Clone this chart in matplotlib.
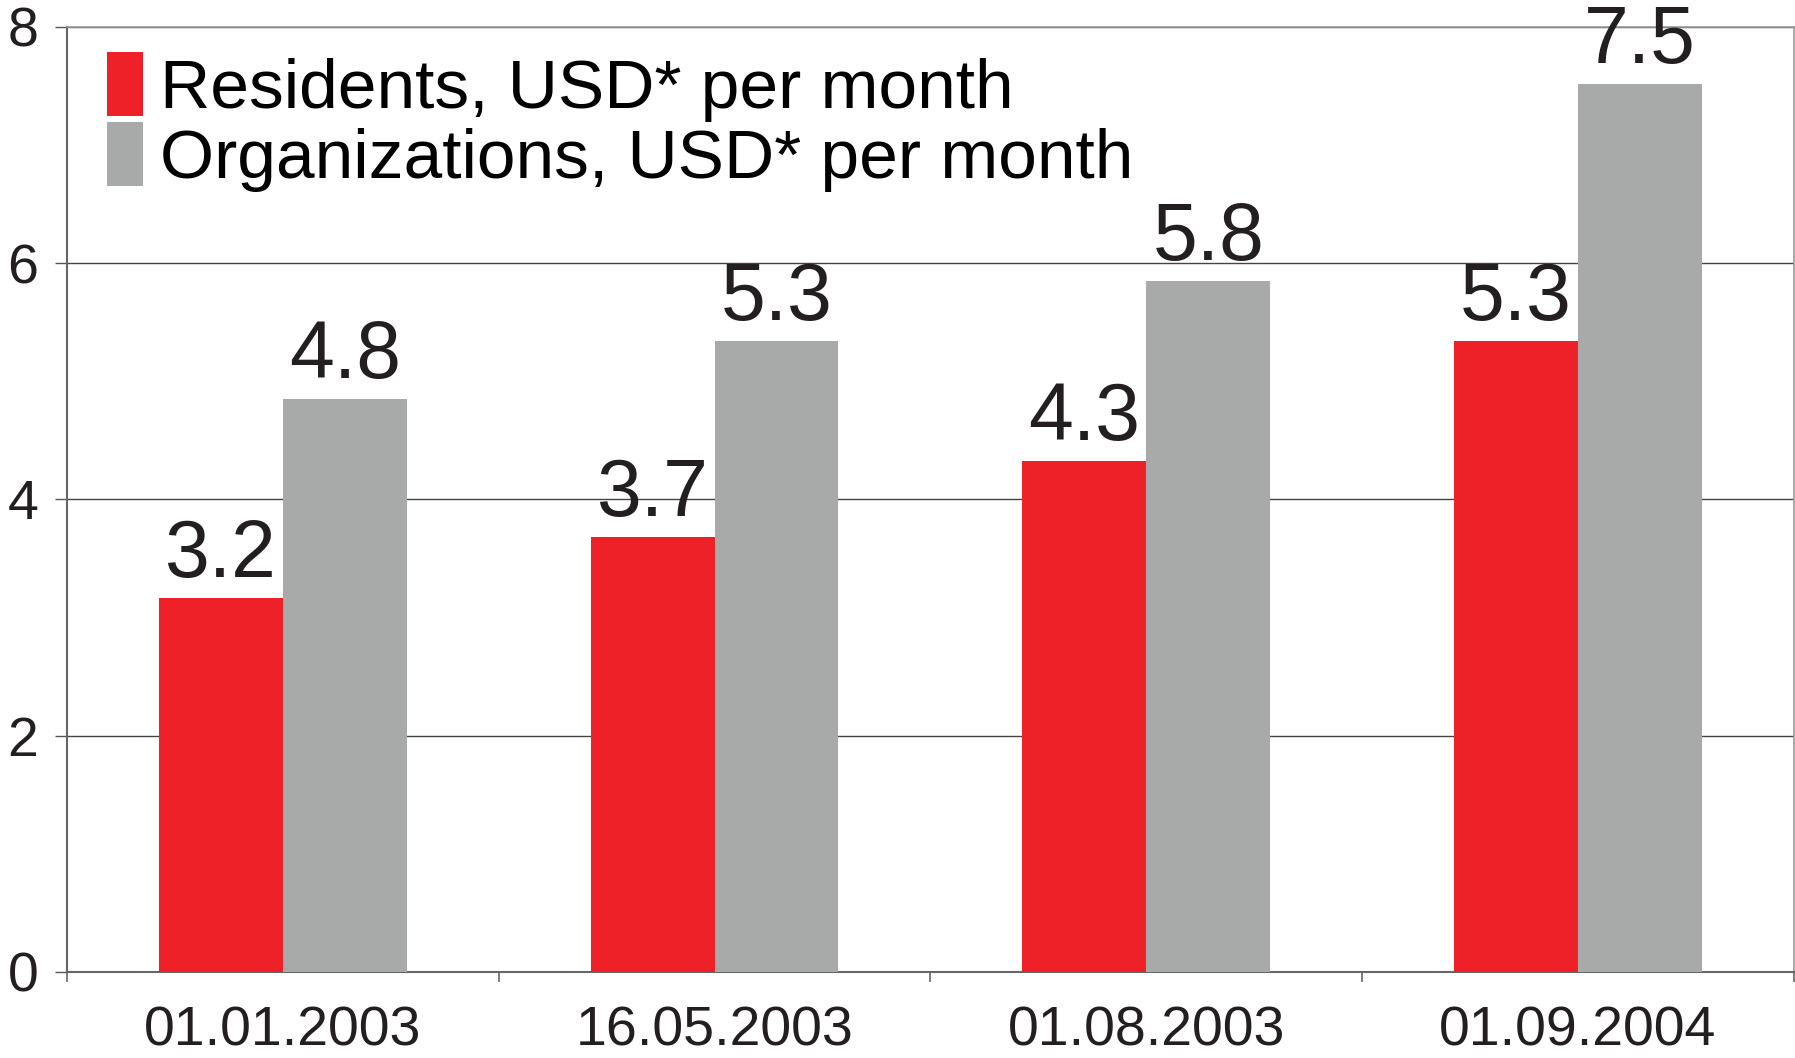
import numpy as np
import matplotlib.pyplot as plt

# data
dates = ["01.01.2003", "16.05.2003", "01.08.2003", "01.09.2004"]
residents = [3.17, 3.68, 4.33, 5.34]
organizations = [4.85, 5.34, 5.85, 7.52]
residents_lbl = ["3.2", "3.7", "4.3", "5.3"]
organizations_lbl = ["4.8", "5.3", "5.8", "7.5"]
yticks = [0, 2, 4, 6, 8]

RED = "#ee2028"
GREY = "#a8a9a9"

plt.rcParams["font.family"] = ["Liberation Sans", "DejaVu Sans"]

fig = plt.figure(figsize=(17.95, 10.58), dpi=100)
ax = fig.add_axes([0.0373, 0.0813, 0.9621, 0.8932])

x = np.arange(len(dates))
w = 0.287
b1 = ax.bar(x - w / 2, residents, w, color=RED, zorder=3,
            label="Residents, USD* per month")
b2 = ax.bar(x + w / 2, organizations, w, color=GREY, zorder=3,
            label="Organizations, USD* per month")

for xi, v, t in zip(x - w / 2, residents, residents_lbl):
    ax.annotate(t, (xi, v), xytext=(0, 15), textcoords="offset points",
                ha="center", va="baseline", fontsize=58, color="#231f20")
for xi, v, t in zip(x + w / 2, organizations, organizations_lbl):
    ax.annotate(t, (xi, v), xytext=(0, 15), textcoords="offset points",
                ha="center", va="baseline", fontsize=58, color="#231f20",
                annotation_clip=False)

ax.set_xlim(-0.5, len(dates) - 0.5)
ax.set_ylim(0, 8)
ax.set_yticks(yticks)
ax.set_yticklabels([str(t) for t in yticks])
ax.set_xticks(x)
ax.set_xticklabels(dates)
ax.set_xticks(np.arange(len(dates) + 1) - 0.5, minor=True)

ax.tick_params(axis="y", length=8.6, width=1.0, color="#555555", pad=12,
               labelsize=40, labelcolor="#231f20")
ax.tick_params(axis="x", which="major", length=0, pad=24,
               labelsize=40, labelcolor="#231f20")
ax.tick_params(axis="x", which="minor", length=7, width=1.2, color="#666666")

ax.yaxis.grid(True, color="#444444", linewidth=1.0, zorder=0)
ax.set_axisbelow(True)

for s in ["left", "bottom"]:
    ax.spines[s].set_color("#666666")
    ax.spines[s].set_linewidth(1.5)
for s in ["top", "right"]:
    ax.spines[s].set_color("#999999")
    ax.spines[s].set_linewidth(1.2)

ax.legend(loc="upper left", bbox_to_anchor=(0.023, 0.9735), frameon=False,
          fontsize=50, borderpad=0, borderaxespad=0, handlelength=0.53,
          handleheight=1.05, handletextpad=0.24, labelspacing=0)

fig.savefig("out.png", dpi=100)
